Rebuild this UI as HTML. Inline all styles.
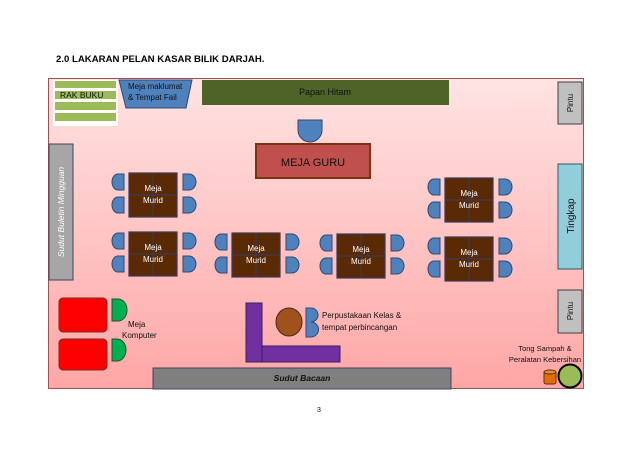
<!DOCTYPE html>
<html><head><meta charset="utf-8"><style>
html,body{margin:0;padding:0;background:#fff;}
svg{display:block;font-family:"Liberation Sans",sans-serif;}
</style></head><body>
<svg width="638" height="452" viewBox="0 0 638 452" xmlns="http://www.w3.org/2000/svg">
<defs>
<linearGradient id="bg" x1="0" y1="0" x2="0" y2="1">
<stop offset="0" stop-color="#ffe3e3"/><stop offset="1" stop-color="#ffa6a6"/>
</linearGradient>
</defs>
<text x="56" y="62" font-size="9.6" font-weight="bold" fill="#000">2.0  LAKARAN PELAN KASAR BILIK DARJAH.</text>
<rect x="48.5" y="78.5" width="535" height="310" fill="url(#bg)" stroke="#a05050" stroke-width="1"/>

<!-- Rak buku -->
<rect x="53" y="80" width="65" height="46" fill="#fff"/>
<rect x="55" y="81" width="61" height="7" fill="#9bbb59"/>
<rect x="55" y="91" width="61" height="8" fill="#9bbb59"/>
<rect x="55" y="102" width="61" height="8" fill="#9bbb59"/>
<rect x="55" y="113" width="61" height="8" fill="#9bbb59"/>
<text x="60" y="98" font-size="8.5" fill="#111">RAK BUKU</text>

<!-- Meja maklumat -->
<polygon points="119,80 192,80 186,108 126,108" fill="#4f81bd" stroke="#2c4a72" stroke-width="1"/>
<text x="128" y="89" font-size="8" fill="#111">Meja maklumat</text>
<text x="128" y="100" font-size="8" fill="#111">&amp; Tempat Fail</text>

<!-- Papan hitam -->
<rect x="202" y="80" width="247" height="25" fill="#4f6228"/>
<text x="325" y="95" font-size="9" fill="#111" text-anchor="middle">Papan Hitam</text>

<!-- Pintu top -->
<rect x="558" y="82" width="24" height="42" fill="#c0c0c0" stroke="#404040" stroke-width="1"/>
<text transform="translate(573,103) rotate(-90)" font-size="8" fill="#111" text-anchor="middle">Pintu</text>
<!-- Tingkap -->
<rect x="558" y="164" width="24" height="105" fill="#92cddc" stroke="#31595f" stroke-width="1"/>
<text transform="translate(574,216) rotate(-90)" font-size="10" fill="#111" text-anchor="middle">Tingkap</text>
<!-- Pintu bottom -->
<rect x="558" y="290" width="24" height="43" fill="#c0c0c0" stroke="#404040" stroke-width="1"/>
<text transform="translate(573,311) rotate(-90)" font-size="8" fill="#111" text-anchor="middle">Pintu</text>

<!-- Sudut Buletin -->
<rect x="49" y="144" width="24" height="136" fill="#a6a6a6" stroke="#404060" stroke-width="1"/>
<text transform="translate(64,212) rotate(-90)" font-size="8.5" font-style="italic" fill="#fff" text-anchor="middle">Sudut Buletin Mingguan</text>

<!-- Teacher -->
<path d="M298,120 H322 V130 A12,12 0 0 1 298,130 Z" fill="#4f81bd" stroke="#2c4a72"/>
<rect x="256" y="144" width="114" height="34" fill="#c0504d" stroke="#7a3412" stroke-width="2"/>
<text x="313" y="166" font-size="11" fill="#111" text-anchor="middle">MEJA GURU</text>

<!-- Desks -->
<g id="desks">
<g transform="translate(129,173)">
<path d="M-5,1 H-11 A6,8 0 0 0 -11,17 H-5 Z M-5,24 H-11 A6,8 0 0 0 -11,40 H-5 Z" fill="#4f81bd" stroke="#2c4a72"/>
<path d="M54,1 H60 A7,8 0 0 1 60,17 H54 Z M54,24 H60 A7,8 0 0 1 60,40 H54 Z" fill="#4f81bd" stroke="#2c4a72"/>
<rect x="0" y="0" width="48" height="44" fill="#5a2a05" stroke="#3a3a55" stroke-width="1.2"/>
<path d="M24,0 V44 M0,22 H48" stroke="#3a3a55" stroke-width="1.2"/>
<text x="24" y="18" font-size="8" fill="#fff" text-anchor="middle">Meja</text>
<text x="24" y="30" font-size="8" fill="#fff" text-anchor="middle">Murid</text>
</g>
</g>
<use href="#desks" transform="translate(0,59)"/>
<use href="#desks" transform="translate(103,60)"/>
<use href="#desks" transform="translate(208,61)"/>
<use href="#desks" transform="translate(316,64)"/>
<use href="#desks" transform="translate(316,5)"/>

<!-- Computers -->
<rect x="59" y="298" width="48" height="34" rx="4" fill="#ff0000" stroke="#7a2a2a"/>
<rect x="59" y="339" width="48" height="31" rx="4" fill="#ff0000" stroke="#7a2a2a"/>
<path d="M112,299 H118 A9,11 0 0 1 118,321 H112 Z" fill="#00b050" stroke="#205030"/>
<path d="M112,339 H117 A9,11 0 0 1 117,361 H112 Z" fill="#00b050" stroke="#205030"/>
<text x="128" y="327" font-size="8" fill="#111">Meja</text>
<text x="122" y="338" font-size="8" fill="#111">Komputer</text>

<!-- Perpustakaan -->
<rect x="246" y="303" width="16" height="59" fill="#7030a0" stroke="#3a2060"/>
<rect x="262" y="346" width="78" height="16" fill="#7030a0" stroke="#3a2060"/>
<ellipse cx="289" cy="322" rx="13" ry="14" fill="#a0521d" stroke="#4a2a10"/>
<path d="M306,308 H311 A7,7 0 0 1 311,322 A7,7 0 0 1 311,337 H306 Z" fill="#4f81bd" stroke="#2c4a72"/>
<text x="322" y="318" font-size="8" fill="#111">Perpustakaan Kelas &amp;</text>
<text x="322" y="330" font-size="8" fill="#111">tempat perbincangan</text>

<!-- Sudut Bacaan -->
<rect x="153" y="368" width="298" height="21" fill="#7f7f7f" stroke="#404060"/>
<text x="302" y="381" font-size="8.5" font-style="italic" font-weight="bold" fill="#111" text-anchor="middle">Sudut Bacaan</text>

<!-- Bins -->
<text x="545" y="351" font-size="7.5" fill="#111" text-anchor="middle">Tong Sampah &amp;</text>
<text x="545" y="362" font-size="7.5" fill="#111" text-anchor="middle">Peralatan Kebersihan</text>
<rect x="544" y="371" width="12" height="13" rx="2" fill="#e36c09" stroke="#5a3010"/>
<ellipse cx="550" cy="372" rx="6" ry="2" fill="#f08a30" stroke="#5a3010"/>
<circle cx="570" cy="376" r="11.5" fill="#9bbb59" stroke="#000" stroke-width="2"/>

<text x="319" y="412" font-size="7" fill="#111" text-anchor="middle">3</text>
</svg>
</body></html>
